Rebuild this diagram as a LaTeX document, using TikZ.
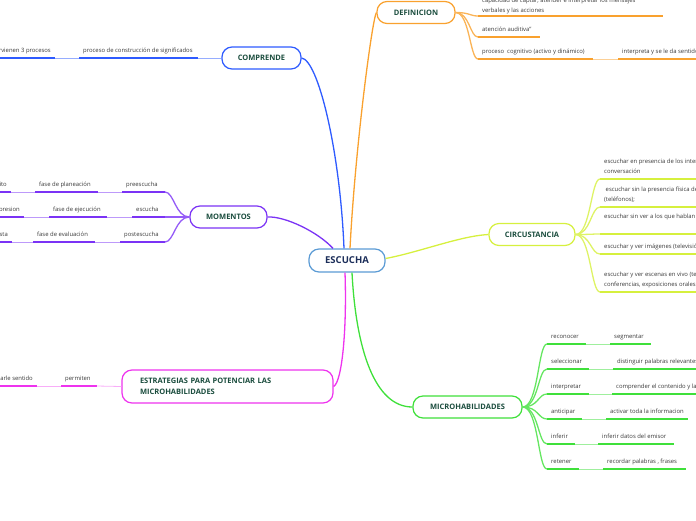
\documentclass[tikz,border=0pt]{standalone}
\usepackage{fontspec}
\setmainfont{Open Sans}
\usepackage{xcolor}
\definecolor{escb}{HTML}{5B9BD5}
\definecolor{escnavy}{HTML}{1C2E5A}
\definecolor{titlegreen}{HTML}{1B4D3E}
\definecolor{leafgray}{HTML}{3A3A3A}
\definecolor{defc}{HTML}{F9A12E}
\definecolor{compc}{HTML}{2E5BFF}
\definecolor{momc}{HTML}{7B33F5}
\definecolor{estc}{HTML}{EE33EE}
\definecolor{circc}{HTML}{D6F03E}
\definecolor{microc}{HTML}{3FE03A}

\begin{document}
\begin{tikzpicture}[x=1pt,y=-1pt,
  hub/.style={draw=escb,line width=1.2pt,rounded corners=10pt,fill=white,minimum width=76pt,minimum height=23pt,inner sep=0pt,font=\fontsize{9.5}{11}\selectfont\bfseries,text=escnavy},
  topic/.style={line width=1.2pt,rounded corners=10pt,fill=white,minimum height=22pt,inner sep=0pt,font=\fontsize{7.5}{11}\selectfont\bfseries,text=titlegreen},
  leaf/.style={anchor=south west,inner xsep=4pt,inner ysep=2pt,align=left,font=\fontsize{5.9}{10}\selectfont,text=leafgray,execute at end node=\strut},
  uline/.style={line width=1.7pt},
  link/.style={line width=1.3pt},
  twig/.style={line width=0.8pt}]
\useasboundingbox (0,0) rectangle (696,520);
\clip (0,0) rectangle (696,520);
\node[hub] (esc) at (347,260.5) {ESCUCHA};
\node[topic,draw=defc,minimum width=78pt] (def) at (416,12.5) {DEFINICION};
\node[topic,draw=compc,minimum width=79pt] (comp) at (261.5,58) {COMPRENDE};
\node[topic,draw=momc,minimum width=77pt] (mom) at (228.5,217) {MOMENTOS};
\node[topic,draw=estc,minimum width=211pt,minimum height=33pt,text width=175pt,align=left] (estr) at (227.5,386.5) {ESTRATEGIAS PARA POTENCIAR LAS\\MICROHABILIDADES};
\node[topic,draw=circc,minimum width=86pt] (circ) at (532,234.5) {CIRCUSTANCIA};
\node[topic,draw=microc,minimum width=109pt] (micro) at (467.5,407) {MICROHABILIDADES};
\draw[link,defc] ([xshift=3pt]esc.north) .. controls (355,150) and (372,20) .. (def.west);
\draw[link,compc] ([xshift=-3pt]esc.north) .. controls (340,150) and (318,60) .. (comp.east);
\draw[link,momc] ([xshift=-14pt]esc.north) .. controls (318,232) and (285,216) .. (mom.east);
\draw[link,circc] ([yshift=2pt]esc.east) .. controls (420,252) and (460,236) .. (circ.west);
\draw[link,estc] ([xshift=-2pt]esc.south) .. controls (347,330) and (342,382) .. (estr.east);
\draw[link,microc] ([xshift=5pt]esc.south) .. controls (356,350) and (375,407) .. (micro.west);

\node[leaf,inner ysep=0pt] (d1) at (478,16) {capacidad de captar, atender e interpretar los mensajes\\verbales y las acciones};
\node[leaf] (d2) at (478,37) {atención auditiva"};
\node[leaf] (d3) at (478,59) {proceso\ \ cognitivo (activo y dinámico)};
\node[leaf] (d4) at (618,59) {interpreta y se le da sentido};
\draw[uline,defc] (d1.south west) -- ++(185,0);
\draw[uline,defc] (d2.south west) -- ++(62,0);
\draw[uline,defc] (d3.south west) -- ++(115,0) coordinate (d3e);
\draw[uline,defc] (d4.south west) -- ++(90,0);
\draw[link,defc!80] (def.east) .. controls +(14,0) and +(-8,0) .. (d1.south west);
\draw[link,defc!80] (def.east) .. controls +(14,0) and +(-8,0) .. (d2.south west);
\draw[link,defc!80] (def.east) .. controls +(14,0) and +(-8,0) .. (d3.south west);
\draw[twig,defc!50] (d3e) -- (d4.south west);

\node[leaf] (k1) at (79,58) {proceso de construcción de significados};
\node[leaf,anchor=south east] (k2) at (55,58) {intervienen 3 procesos};
\draw[uline,compc] (k1.south west) -- ++(119,0) coordinate (k1e);
\draw[uline,compc] (k2.south east) -- ++(-80,0);
\draw[twig,compc!50] (comp.west) -- (k1e);
\draw[twig,compc!50] (k1.south west) -- (k2.south east);

\node[leaf] (p1) at (122,192) {preescucha};
\node[leaf] (p2) at (35,192) {fase de planeación};
\node[leaf,anchor=south east] (p3) at (11,192) {propósito};
\node[leaf] (q1) at (132,217) {escucha};
\node[leaf] (q2) at (49,217) {fase de ejecución};
\node[leaf,anchor=south east] (q3) at (24,217) {compresion};
\node[leaf] (r1) at (120,242) {postescucha};
\node[leaf] (r2) at (33,242) {fase de evaluación};
\node[leaf,anchor=south east] (r3) at (12,242) {respuesta};
\draw[uline,momc] (p1.south west) -- ++(43,0) coordinate (p1e);
\draw[uline,momc] (p2.south west) -- ++(63,0) coordinate (p2e);
\draw[uline,momc] (p3.south east) -- ++(-60,0);
\draw[uline,momc] (q1.south west) -- ++(33,0) coordinate (q1e);
\draw[uline,momc] (q2.south west) -- ++(58,0) coordinate (q2e);
\draw[uline,momc] (q3.south east) -- ++(-60,0);
\draw[uline,momc] (r1.south west) -- ++(45,0) coordinate (r1e);
\draw[uline,momc] (r2.south west) -- ++(62,0) coordinate (r2e);
\draw[uline,momc] (r3.south east) -- ++(-60,0);
\draw[link,momc!80] (mom.west) .. controls +(-14,0) and +(9,0) .. (p1e);
\draw[link,momc!80] (mom.west) .. controls +(-14,0) and +(9,0) .. (q1e);
\draw[link,momc!80] (mom.west) .. controls +(-14,0) and +(9,0) .. (r1e);
\draw[twig,momc!50] (p1.south west) -- (p2e);
\draw[twig,momc!50] (p2.south west) -- (p3.south east);
\draw[twig,momc!50] (q1.south west) -- (q2e);
\draw[twig,momc!50] (q2.south west) -- (q3.south east);
\draw[twig,momc!50] (r1.south west) -- (r2e);
\draw[twig,momc!50] (r2.south west) -- (r3.south east);

\node[leaf] (t1) at (61,386) {permiten};
\node[leaf,anchor=south east] (t2) at (37,386) {darle sentido};
\draw[uline,estc] (t1.south west) -- ++(36,0) coordinate (t1e);
\draw[uline,estc] (t2.south east) -- ++(-60,0);
\draw[twig,estc!40] (estr.west) -- (t1e);
\draw[twig,estc!40] (t1.south west) -- (t2.south east);

\node[leaf] (s1) at (600,179) {escuchar en presencia de los interlocutores de la\\conversación};
\node[leaf] (s2) at (600,207) {~escuchar sin la presencia física del interlocutor\\(teléfonos);};
\node[leaf] (s3) at (600,234) {escuchar sin ver a los que hablan (radio)\\};
\node[leaf] (s4) at (600,254) {escuchar y ver imágenes (televisión, cine)};
\node[leaf] (s5) at (600,292) {escuchar y ver escenas en vivo (teatro,\\conferencias, exposiciones orales)};
\foreach \s in {s1,s2,s3,s4,s5}{
  \draw[uline,circc] (\s.south west) -- ++(110,0);
  \draw[link,circc!80] (circ.east) .. controls +(15,0) and +(-9,0) .. (\s.south west);}

\foreach \i/\y/\a/\la/\xb/\b/\lb in {1/344/reconocer/39/610/segmentar/41,
  2/369/seleccionar/42/613/{distinguir palabras relevantes de un discurso}/100,
  3/394/interpretar/42/612/{comprender el contenido y la forma del discurso}/100,
  4/419/anticipar/35/606/{activar toda la informacion}/82,
  5/444/inferir/28/598/{inferir datos del emisor}/76,
  6/469/retener/32/603/{recordar palabras , frases}/83}{
  \node[leaf] (m\i) at (547,\y) {\a};
  \node[leaf] (n\i) at (\xb,\y) {\b};
  \draw[uline,microc] (m\i.south west) -- ++(\la,0) coordinate (me\i);
  \draw[uline,microc] (n\i.south west) -- ++(\lb,0);
  \draw[twig,microc!50] (me\i) -- (n\i.south west);
  \draw[link,microc!80] (micro.east) .. controls +(16,0) and +(-9,0) .. (m\i.south west);}
\end{tikzpicture}
\end{document}
